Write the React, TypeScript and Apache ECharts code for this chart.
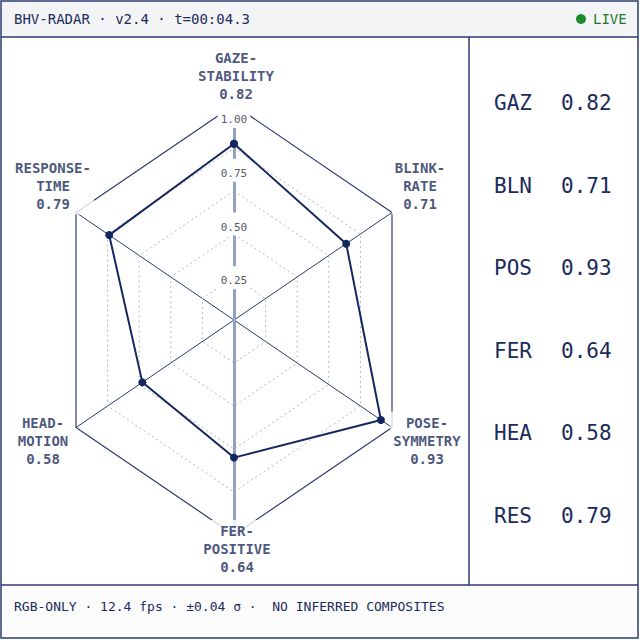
import React, { useEffect, useRef } from "react";
import * as echarts from "echarts";

// ---- data ----
const INDICATORS = ["GAZE-STABILITY", "BLINK-RATE", "POSE-SYMMETRY", "FER-POSITIVE", "HEAD-MOTION", "RESPONSE-TIME"];
const CODES = ["GAZ", "BLN", "POS", "FER", "HEA", "RES"];
const VALUES = [0.82, 0.71, 0.93, 0.64, 0.58, 0.79];
const RING_LEVELS = [0.2, 0.4, 0.6, 0.8, 1.0];
const TICK_VALUES = [0.25, 0.5, 0.75, 1.0];
const MAX = 1;
const HEADER = "BHV-RADAR · v2.4 · t=00:04.3";
const STATUS = "LIVE";
const FOOTER = "RGB-ONLY · 12.4 fps · ±0.04 σ ·  NO INFERRED COMPOSITES";

// ---- style / layout ----
const NAVY = "#1c2b5a";
const LINE = "#2c3b70";
const MONO = "'DejaVu Sans Mono', 'Liberation Mono', monospace";
const LABEL_OFFSETS = [[2, -29], [28, -27], [35, 13], [3, 14], [-33, 13], [-23, -27]];
const SIN60 = Math.sin(Math.PI / 3);
const GRID_LEFT = 76;
const GRID_WIDTH = 316;

function pt(v: number, i: number): number[] {
  const a = (i * Math.PI) / 3;
  return [v * Math.sin(a), v * Math.cos(a)];
}

export default function App() {
  const ref = useRef<HTMLDivElement>(null);
  useEffect(() => {
    if (!ref.current) return;
    const chart = echarts.init(ref.current, null, { renderer: "svg" });
    const n = INDICATORS.length;
    const closed = (v: (i: number) => number) =>
      Array.from({ length: n + 1 }, (_, k) => pt(v(k % n), k % n));

    const ringSeries = RING_LEVELS.map((r) => ({
      type: "line",
      data: closed(() => r),
      symbol: "none",
      silent: true,
      z: 1,
      lineStyle:
        r === MAX
          ? { color: LINE, width: 1.2, type: "solid" }
          : { color: "#b3b7c0", width: 1, type: [2, 3] },
    }));

    const rowGap = 82.6;
    const panel: any[] = [];
    CODES.forEach((c, i) => {
      panel.push({
        type: "text",
        x: 494,
        y: 103 + i * rowGap,
        style: { text: c, font: `21px ${MONO}`, fill: NAVY, verticalAlign: "middle" },
      });
      panel.push({
        type: "text",
        x: 561,
        y: 103 + i * rowGap,
        style: { text: VALUES[i].toFixed(2), font: `21px ${MONO}`, fill: NAVY, verticalAlign: "middle" },
      });
    });

    chart.setOption({
      animation: false,
      backgroundColor: "#ffffff",
      grid: { left: GRID_LEFT, width: GRID_WIDTH, top: 105, bottom: 105, containLabel: false },
      xAxis: { type: "value", min: -MAX * SIN60, max: MAX * SIN60, show: false },
      yAxis: {
        type: "value",
        min: -MAX,
        max: MAX,
        interval: 0.25,
        position: "left",
        offset: -GRID_WIDTH / 2,
        z: 3,
        axisLine: { show: true, onZero: false, lineStyle: { color: "#93a2c0", width: 3 } },
        axisTick: { show: false },
        splitLine: { show: false },
        axisLabel: {
          customValues: TICK_VALUES,
          formatter: (v: number) => v.toFixed(2),
          margin: 0,
          align: "center",
          verticalAlign: "top",
          fontFamily: MONO,
          fontSize: 11,
          color: "#555a66",
          backgroundColor: "#ffffff",
          padding: [9, 3, 3, 3],
        },
      },
      series: [
        ...ringSeries,
        {
          type: "lines",
          coordinateSystem: "cartesian2d",
          silent: true,
          z: 1,
          lineStyle: { color: LINE, width: 1, opacity: 1 },
          data: INDICATORS.map((_, i) => ({ coords: [[0, 0], pt(MAX, i)] })),
        },
        {
          type: "line",
          z: 10,
          data: closed((i) => VALUES[i]),
          symbol: "circle",
          symbolSize: 8,
          itemStyle: { color: "#13285e" },
          lineStyle: { color: "#13285e", width: 2 },
        },
        {
          type: "scatter",
          z: 12,
          symbolSize: 1,
          itemStyle: { color: "rgba(0,0,0,0)" },
          silent: true,
          data: INDICATORS.map((name, i) => ({
            name,
            value: pt(MAX, i),
            label: { offset: LABEL_OFFSETS[i] },
          })),
          label: {
            show: true,
            position: "inside",
            formatter: (p: any) => p.name.replace("-", "-\n") + "\n" + VALUES[p.dataIndex].toFixed(2),
            fontFamily: MONO,
            fontSize: 14,
            fontWeight: "bold",
            lineHeight: 18,
            color: NAVY,
            textBorderWidth: 0,
            align: "center",
            verticalAlign: "middle",
            backgroundColor: "#ffffff",
            padding: [2, 3],
          },
        },
      ],
      graphic: [
        { type: "rect", z: -1, shape: { x: 1, y: 1, width: 637, height: 36 }, style: { fill: "#f3f4f6" } },
        { type: "rect", z: -1, shape: { x: 1, y: 585, width: 637, height: 53 }, style: { fill: "#fbfbfc" } },
        { type: "line", shape: { x1: 1, y1: 37, x2: 638, y2: 37 }, style: { stroke: LINE, lineWidth: 1.5 } },
        { type: "line", shape: { x1: 1, y1: 585, x2: 638, y2: 585 }, style: { stroke: LINE, lineWidth: 1.5 } },
        { type: "line", shape: { x1: 469, y1: 37, x2: 469, y2: 585 }, style: { stroke: LINE, lineWidth: 1.5 } },
        { type: "rect", z: 50, shape: { x: 1, y: 1, width: 637, height: 637 }, style: { fill: "none", stroke: LINE, lineWidth: 1.5 } },
        { type: "text", x: 14, y: 19, style: { text: HEADER, font: `14px ${MONO}`, fill: NAVY, verticalAlign: "middle" } },
        { type: "circle", shape: { cx: 581, cy: 19, r: 5 }, style: { fill: "#1f8a2c" } },
        { type: "text", x: 593, y: 19, style: { text: STATUS, font: `14px ${MONO}`, fill: "#1f7a2c", verticalAlign: "middle" } },
        { type: "text", x: 14, y: 606, style: { text: FOOTER, font: `13px ${MONO}`, fill: NAVY, verticalAlign: "middle" } },
        ...panel,
      ],
    });
    return () => chart.dispose();
  }, []);
  return <div ref={ref} style={{ position: "fixed", left: 0, top: 0, width: 640, height: 640 }} />;
}
